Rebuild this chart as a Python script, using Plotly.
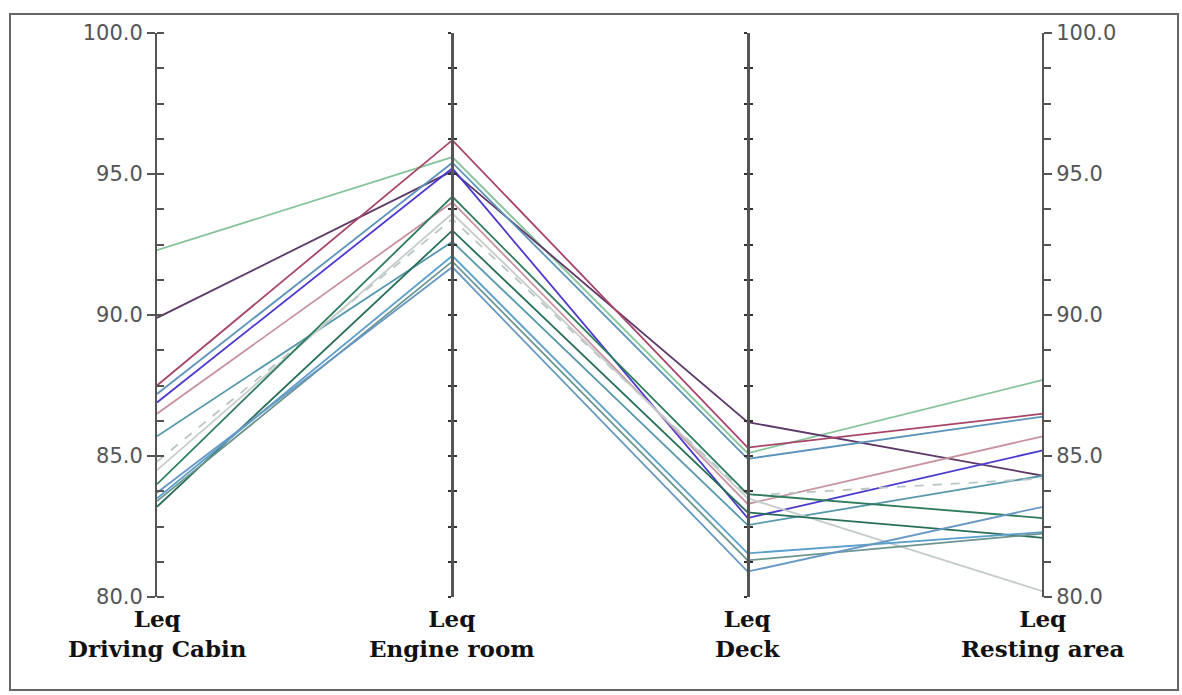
import plotly.graph_objects as go

# ---- data ----
dimensions = ["Leq<br>Driving Cabin", "Leq<br>Engine room", "Leq<br>Deck", "Leq<br>Resting area"]
driving_cabin = [92.3, 89.9, 87.5, 87.2, 86.9, 86.5, 85.7, 84.8, 84.5, 84.0, 83.2, 83.5, 83.4, 83.7]
engine_room   = [95.6, 95.1, 96.2, 95.4, 95.2, 94.0, 92.6, 93.4, 93.6, 94.2, 93.0, 92.1, 91.9, 91.7]
deck          = [85.1, 86.2, 85.3, 84.9, 82.8, 83.3, 82.55, 83.6, 83.5, 83.65, 83.0, 81.55, 81.3, 80.9]
resting_area  = [87.7, 84.3, 86.5, 86.4, 85.2, 85.7, 84.3, 84.2, 80.2, 82.8, 82.1, 82.3, 82.25, 83.2]
line_colors = ["#86c49a", "#5e3868", "#a8446a", "#5b93bb", "#4b3ad0", "#c8939f", "#5798ad",
               "#b9c6c6", "#c4cccc", "#2f7d5c", "#266e58", "#5b9fcc", "#6c9590", "#6898c4"]
line_dash = ["solid"] * 7 + ["dash"] + ["solid"] * 6

y_min, y_max = 80.0, 100.0

# ---- layout geometry ----
W, H = 1182, 695
ML, MR, MT, MB = 157, 139, 33, 98
PW, PH = W - ML - MR, H - MT - MB

def px_to_paper_x(px):
    return (px - ML) / PW

def px_to_paper_y(py):
    return (H - MB - py) / PH

fig = go.Figure()
xs = list(range(len(dimensions)))
for i in range(len(driving_cabin)):
    fig.add_trace(go.Scatter(
        x=xs,
        y=[driving_cabin[i], engine_room[i], deck[i], resting_area[i]],
        mode="lines",
        line=dict(color=line_colors[i], width=1.8, dash=line_dash[i]),
        showlegend=False, hoverinfo="skip",
    ))

# invisible traces so every extra y-axis is rendered
for ax in ["y2", "y3", "y4", "y5", "y6"]:
    fig.add_trace(go.Scatter(x=[0], y=[y_min], yaxis=ax, mode="markers",
                             marker=dict(opacity=0), showlegend=False, hoverinfo="skip"))

axis_color = "#555555"
tick_font = dict(family="DejaVu Sans", size=21, color="#555555")

common = dict(range=[y_min, y_max], showgrid=False, zeroline=False, showline=True,
              linecolor=axis_color, fixedrange=True)

fig.update_layout(
    width=W, height=H,
    margin=dict(l=ML, r=MR, t=MT, b=MB),
    paper_bgcolor="white", plot_bgcolor="white",
    xaxis=dict(range=[0, len(dimensions) - 1], visible=False, fixedrange=True),
    yaxis=dict(**common, linewidth=2, tickmode="linear", tick0=80, dtick=5, tickformat=".1f",
               ticks="outside", ticklen=8, tickwidth=2, tickcolor=axis_color,
               tickfont=tick_font,
               minor=dict(dtick=1.25, tick0=80, ticks="inside", ticklen=7, tickwidth=2,
                          tickcolor=axis_color)),
    yaxis2=dict(**common, linewidth=2, overlaying="y", side="right", anchor="free", position=1,
                tickmode="linear", tick0=80, dtick=5, tickformat=".1f",
                ticks="outside", ticklen=8, tickwidth=2, tickcolor=axis_color,
                tickfont=tick_font,
                minor=dict(dtick=1.25, tick0=80, ticks="outside", ticklen=7, tickwidth=2,
                           tickcolor=axis_color)),
)

# middle axes (ticks on both sides)
mid_positions = [1 / 3, 2 / 3]
names = [("yaxis3", "yaxis5"), ("yaxis4", "yaxis6")]
for pos, (a_out, a_in) in zip(mid_positions, names):
    fig.update_layout({
        a_out: dict(**common, linewidth=3, overlaying="y", anchor="free", position=pos,
                    side="left", tickmode="linear", tick0=80, dtick=1.25,
                    ticks="outside", ticklen=3, tickwidth=2, tickcolor="#333333",
                    showticklabels=False),
        a_in: dict(**common, linewidth=3, overlaying="y", anchor="free", position=pos,
                   side="left", tickmode="linear", tick0=80, dtick=1.25,
                   ticks="inside", ticklen=3, tickwidth=2, tickcolor="#333333",
                   showticklabels=False),
    })

# dimension labels
for i, name in enumerate(dimensions):
    fig.add_annotation(x=i, xref="x", y=px_to_paper_y(603), yref="paper",
                       text="<b>" + name + "</b>", showarrow=False,
                       xanchor="center", yanchor="top",
                       font=dict(family="DejaVu Serif", size=23, color="#111111"))

# outer frame
fig.add_shape(type="rect", xref="paper", yref="paper",
              x0=px_to_paper_x(10), x1=px_to_paper_x(1178),
              y0=px_to_paper_y(690), y1=px_to_paper_y(14),
              line=dict(color="#666666", width=2), layer="below")

fig.write_html("out.html")
